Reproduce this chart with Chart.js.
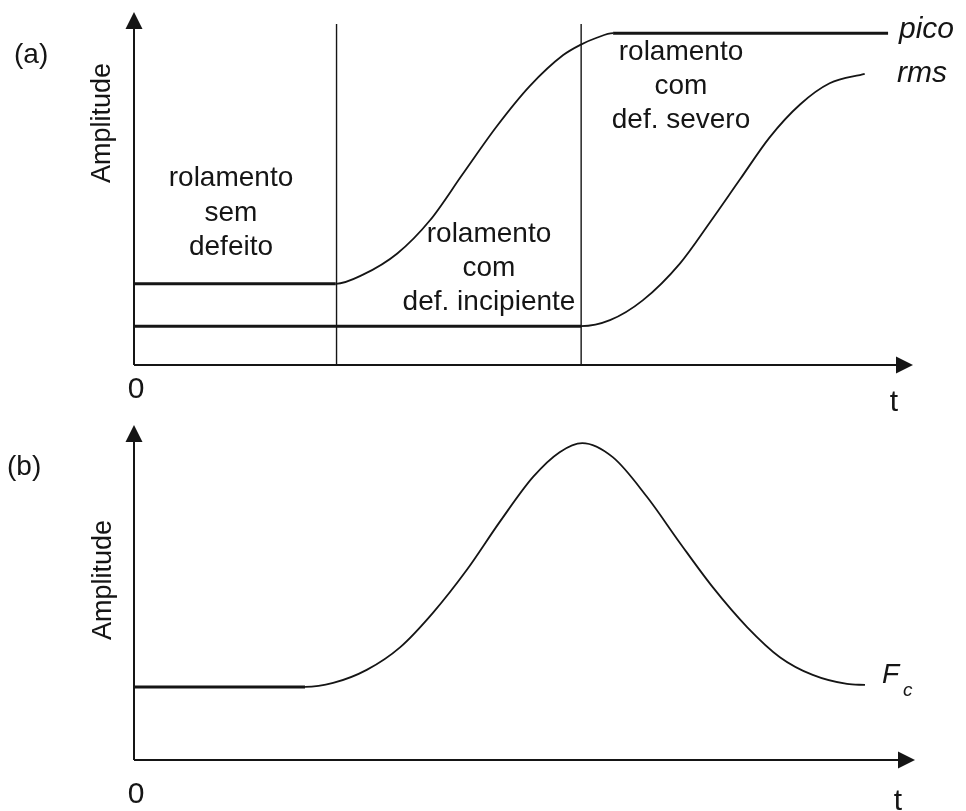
<!DOCTYPE html>
<html lang="pt">
<head>
<meta charset="utf-8">
<title>Evolução da amplitude - rolamento</title>
<script src="https://cdn.jsdelivr.net/npm/chart.js@4/dist/chart.umd.min.js"></script>
<style>
  html, body { margin: 0; padding: 0; background: #fff; }
  .painel { position: relative; width: 966px; }
  #painelA { height: 415px; }
  #painelB { height: 396px; }
</style>
</head>
<body>
<div class="painel" id="painelA"><canvas id="graficoA"></canvas></div>
<div class="painel" id="painelB"><canvas id="graficoB"></canvas></div>
<script>
// --- Dados (t e amplitude em unidades relativas 0..100) ---
// (a) nível de pico
const tPico   = [0, 25.9, 29.4, 33.8, 38.0, 42.2, 46.6, 50.8, 55.1, 57.3, 59.4, 61.5, 96.8];
const ampPico = [23, 23, 25.6, 31.6, 41.0, 54.1, 67.7, 79.0, 87.8, 90.7, 92.7, 94, 94];
// (a) nível rms
const tRms    = [0, 57.4, 61.1, 65.3, 70.1, 73.9, 77.8, 81.6, 85.5, 89.3, 93.8];
const ampRms  = [11, 11, 12.7, 18.3, 28.8, 40.3, 52.6, 64.5, 73.8, 79.8, 82.5];
// (a) limites entre os estágios do rolamento
const tEstagios = [26, 57.4];
const alturaEstagio = 96.6;
// (b) fator de crista
const tFc   = [0, 21.9, 25.5, 29.8, 34.1, 38.3, 42.6, 46.9, 51.1, 54.5, 57.4, 61.3, 65.7, 69.9, 74.1, 78.5, 82.7, 86.9, 91.3, 93.6];
const ampFc = [21.8, 21.8, 23.0, 26.9, 33.7, 44.0, 56.7, 71.3, 84.5, 91.9, 94.6, 90.4, 78.5, 64.8, 51.6, 39.7, 30.7, 25.4, 22.7, 22.4];

// textos
const rotuloA = '(a)';
const rotuloB = '(b)';
const tituloY = 'Amplitude';
const tituloX = 't';
const origem = '0';
const estagioSem = ['rolamento', 'sem', 'defeito'];
const estagioIncipiente = ['rolamento', 'com', 'def. incipiente'];
const estagioSevero = ['rolamento', 'com', 'def. severo'];

const FONTE = '"Liberation Sans", Arial, sans-serif';
const COR = '#151515';

function pontos(xs, ys) {
  return xs.map((x, i) => ({ x, y: ys[i] }));
}

// trechos planos um pouco mais grossos que as curvas
function serie(xs, ys) {
  return {
    data: pontos(xs, ys),
    borderColor: COR,
    borderWidth: 2,
    pointRadius: 0,
    cubicInterpolationMode: 'monotone',
    segment: {
      borderWidth: ctx => (ctx.p0.parsed.y === ctx.p1.parsed.y ? 3 : 1.8)
    }
  };
}

function separador(x) {
  return {
    data: [{ x, y: 0 }, { x, y: alturaEstagio }],
    borderColor: COR,
    borderWidth: 1.4,
    pointRadius: 0
  };
}

// eixos com setas + textos livres
const eixosPlugin = {
  id: 'eixos',
  afterDatasetsDraw(chart, args, opts) {
    const { ctx, chartArea: a } = chart;
    ctx.save();
    ctx.strokeStyle = COR;
    ctx.fillStyle = COR;
    ctx.lineWidth = 2;
    ctx.beginPath();
    ctx.moveTo(a.left, a.bottom);
    ctx.lineTo(a.left, a.top + 12);
    ctx.moveTo(a.left, a.bottom);
    ctx.lineTo(a.right - 12, a.bottom);
    ctx.stroke();

    ctx.beginPath();
    ctx.moveTo(a.left, a.top);
    ctx.lineTo(a.left - 8.5, a.top + 17);
    ctx.lineTo(a.left + 8.5, a.top + 17);
    ctx.closePath();
    ctx.fill();
    ctx.beginPath();
    ctx.moveTo(a.right, a.bottom);
    ctx.lineTo(a.right - 17, a.bottom - 8.5);
    ctx.lineTo(a.right - 17, a.bottom + 8.5);
    ctx.closePath();
    ctx.fill();

    (opts.textos || []).forEach(t => {
      ctx.font = `${t.italic ? 'italic ' : ''}${t.size}px ${FONTE}`;
      ctx.textAlign = t.align || 'center';
      ctx.textBaseline = 'alphabetic';
      if (t.rot) {
        ctx.save();
        ctx.translate(t.x, t.y);
        ctx.rotate(-Math.PI / 2);
        ctx.fillText(t.text, 0, 0);
        ctx.restore();
      } else {
        ctx.fillText(t.text, t.x, t.y);
      }
    });
    ctx.restore();
  }
};

function bloco(linhas, x, y0, passo) {
  return linhas.map((text, i) => ({ text, x, y: y0 + i * passo, size: 28 }));
}

function opcoes(padding, textos) {
  return {
    responsive: true,
    maintainAspectRatio: false,
    animation: false,
    events: [],
    layout: { padding },
    scales: {
      x: { type: 'linear', min: 0, max: 100, display: false },
      y: { type: 'linear', min: 0, max: 100, display: false }
    },
    plugins: {
      legend: { display: false },
      tooltip: { enabled: false },
      eixos: { textos }
    }
  };
}

const textosA = [
  { text: rotuloA, x: 14, y: 63, size: 28, align: 'left' },
  { text: tituloY, x: 110, y: 123, size: 27, rot: true },
  { text: origem, x: 136, y: 398, size: 30 },
  { text: tituloX, x: 894, y: 411, size: 30 },
  { text: 'pico', x: 899, y: 38, size: 30, italic: true, align: 'left' },
  { text: 'rms', x: 897, y: 82, size: 30, italic: true, align: 'left' },
  ...bloco(estagioSem, 231, 186, 34.5),
  ...bloco(estagioIncipiente, 489, 242, 34),
  ...bloco(estagioSevero, 681, 60, 34)
];

const textosB = [
  { text: rotuloB, x: 7, y: 60, size: 28, align: 'left' },
  { text: tituloY, x: 111, y: 165, size: 27, rot: true },
  { text: origem, x: 136, y: 388, size: 30 },
  { text: tituloX, x: 898, y: 395, size: 30 },
  { text: 'F', x: 882, y: 268, size: 28, italic: true, align: 'left' },
  { text: 'c', x: 903, y: 281, size: 19, italic: true, align: 'left' }
];

new Chart(document.getElementById('graficoA'), {
  type: 'line',
  data: {
    datasets: [
      serie(tPico, ampPico),
      serie(tRms, ampRms),
      ...tEstagios.map(separador)
    ]
  },
  options: opcoes({ left: 134, right: 53, top: 12, bottom: 50 }, textosA),
  plugins: [eixosPlugin]
});

new Chart(document.getElementById('graficoB'), {
  type: 'line',
  data: { datasets: [serie(tFc, ampFc)] },
  options: opcoes({ left: 134, right: 51, top: 10, bottom: 51 }, textosB),
  plugins: [eixosPlugin]
});
</script>
</body>
</html>
